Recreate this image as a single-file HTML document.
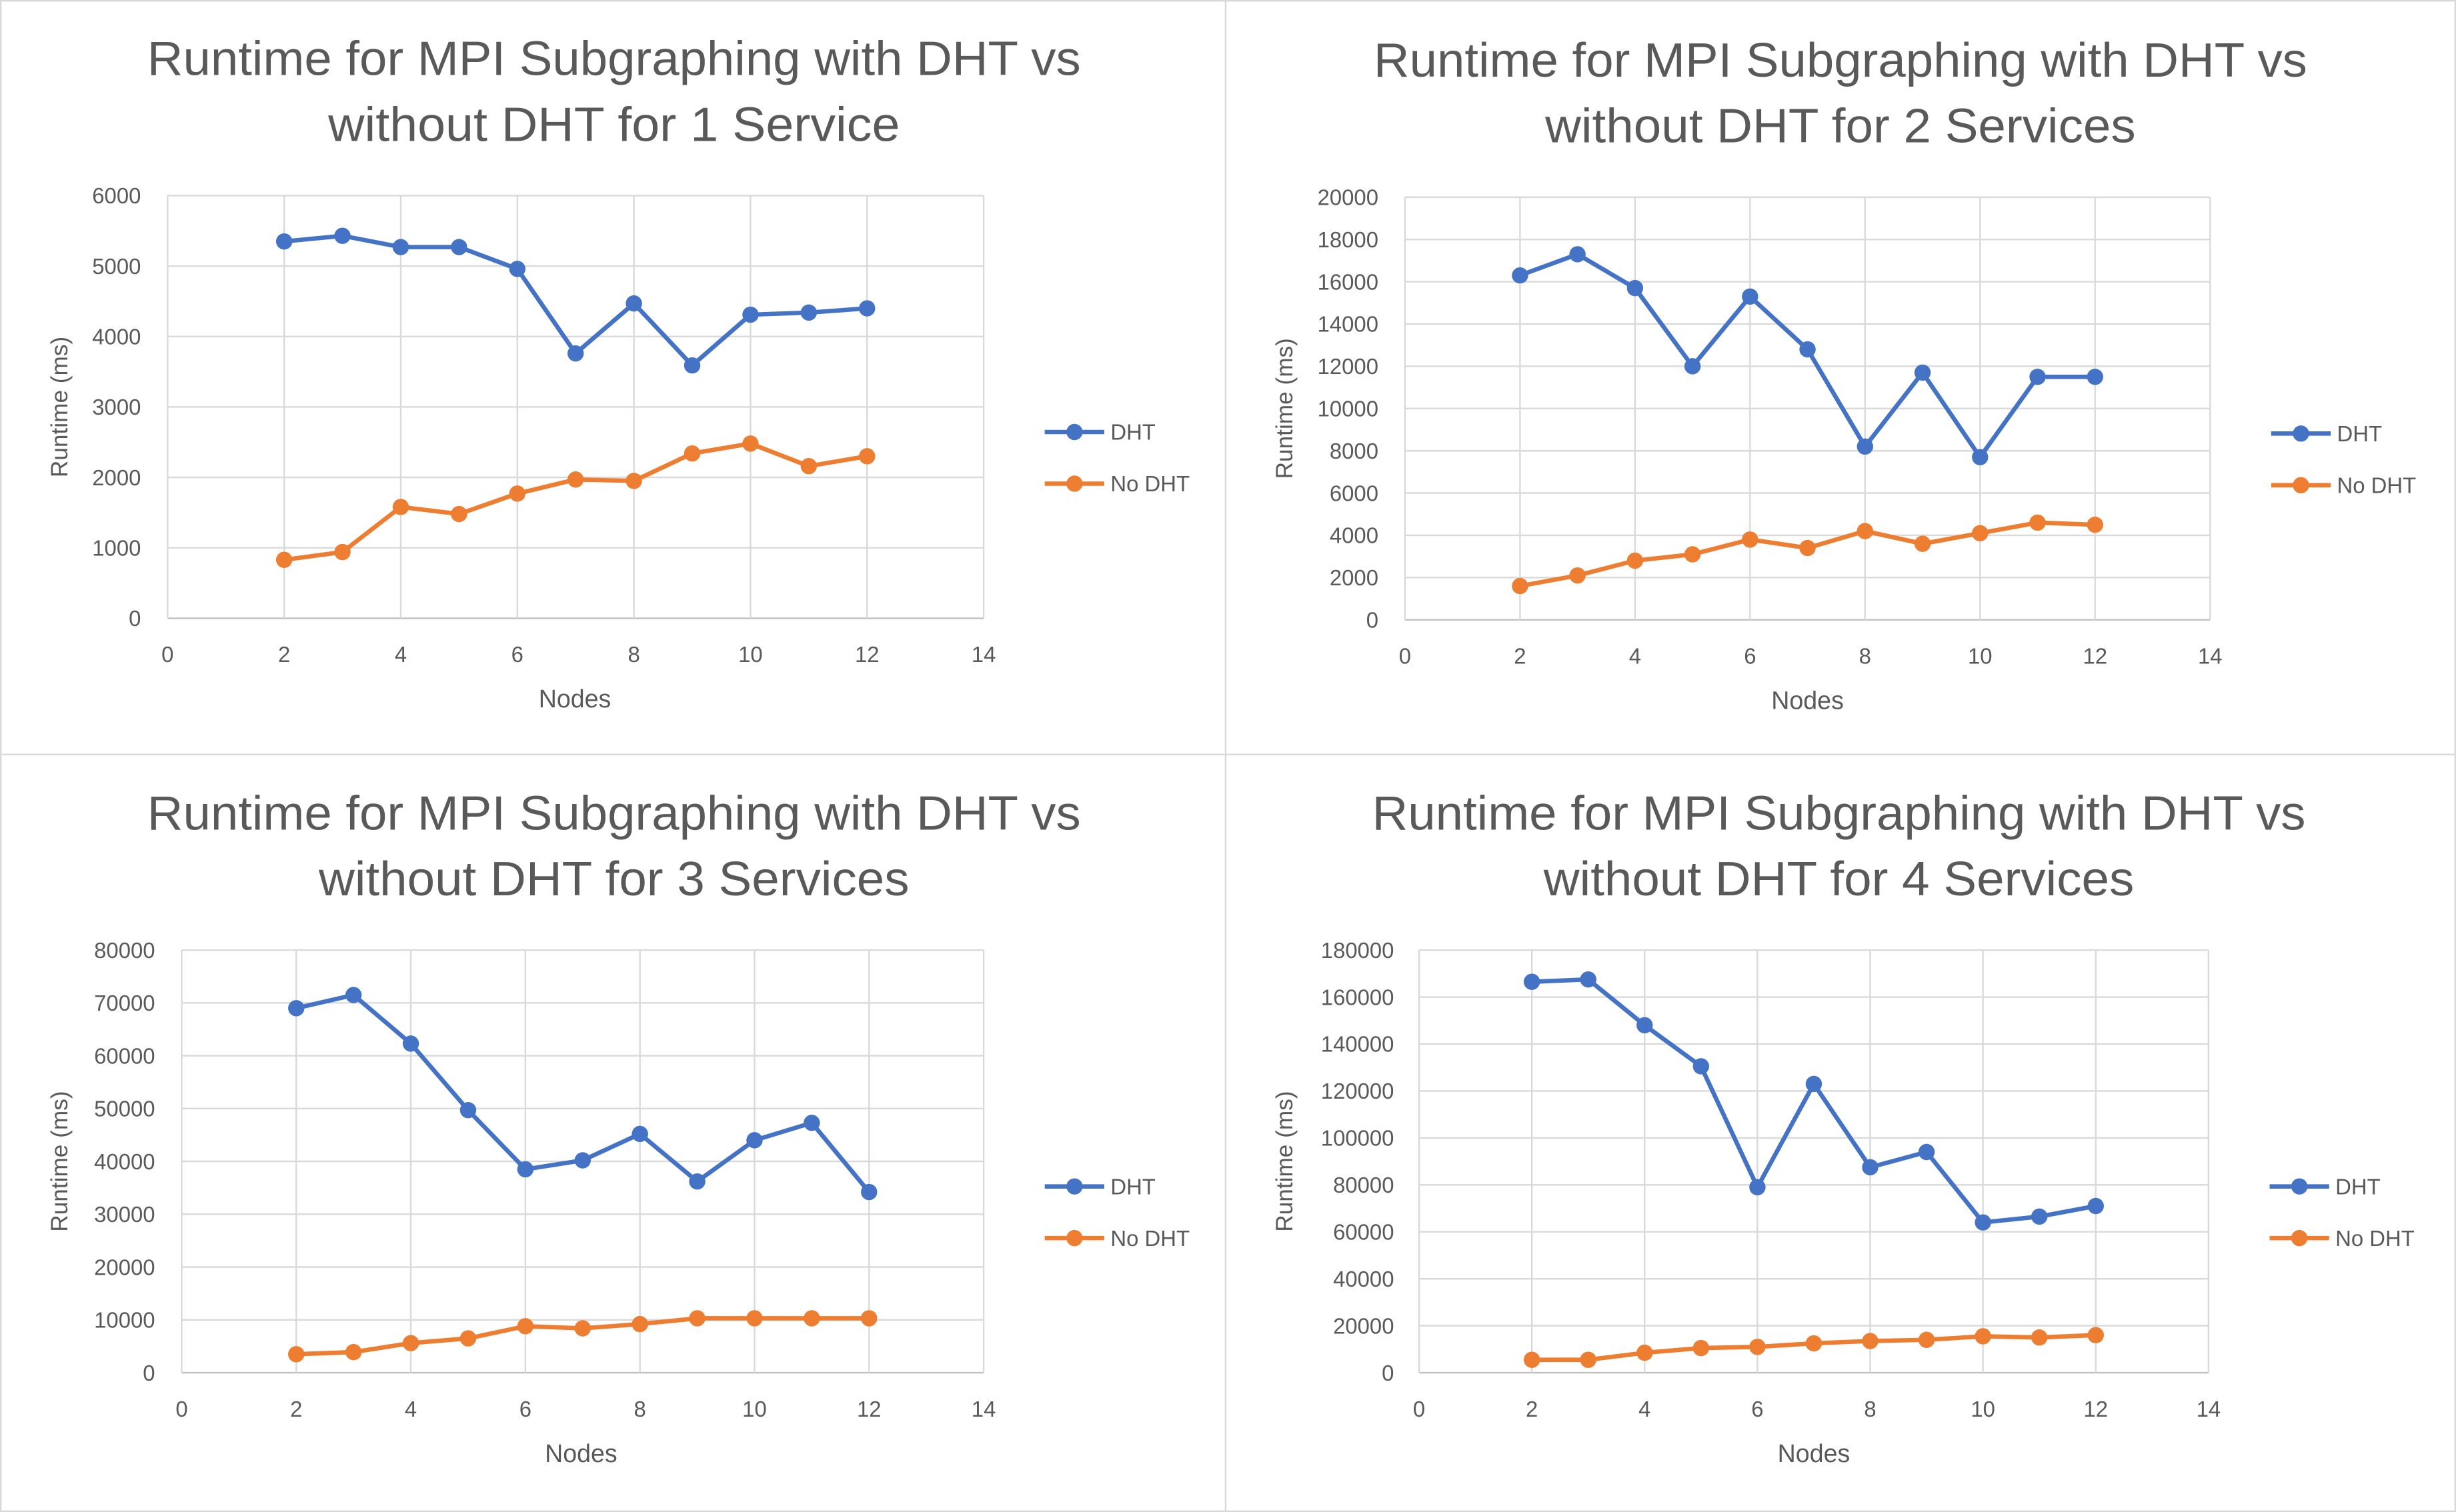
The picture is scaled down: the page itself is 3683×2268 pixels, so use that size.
<!DOCTYPE html>
<html><head><meta charset="utf-8"><style>
html,body{margin:0;padding:0;background:#fff;}
svg{display:block;}
text{font-family:"Liberation Sans",sans-serif;fill:#595959;}
</style></head><body>
<svg id="s" width="3683" height="2268" viewBox="0 0 1568 966" preserveAspectRatio="none" xmlns="http://www.w3.org/2000/svg"></svg>
<script>
const s=document.getElementById('s');let h='';
h+='<rect x="0.5" y="0.5" width="1567" height="965" fill="#fff" stroke="#d9d9d9"/>';
h+='<line x1="782.5" y1="0" x2="782.5" y2="966" stroke="#d9d9d9"/><line x1="0" y1="482" x2="1568" y2="482" stroke="#d9d9d9"/>';
const charts=[
{px:[107,628],py:[125,395],max:6000,step:1000,lx:90,cx:392,ty:[38,80],tt:'1 Service',tw2:365,nodes:[367,447],yt:[38,260],leg:[667,276,309],
d:[5350,5430,5270,5270,4960,3760,4470,3590,4310,4340,4400],n:[830,940,1580,1480,1770,1970,1950,2340,2480,2160,2300]},
{px:[897,1411],py:[126,396],max:20000,step:2000,lx:880,cx:1175,ty:[39,81],tt:'2 Services',tw2:377,nodes:[1154,448],yt:[820,261],leg:[1450,277,310],
d:[16300,17300,15700,12000,15300,12800,8200,11700,7700,11500,11500],n:[1600,2100,2800,3100,3800,3400,4200,3600,4100,4600,4500]},
{px:[116,628],py:[607,877],max:80000,step:10000,lx:99,cx:392,ty:[520,562],tt:'3 Services',tw2:377,nodes:[371,929],yt:[38,742],leg:[667,758,791],
d:[69000,71500,62300,49700,38500,40200,45200,36200,44000,47300,34200],n:[3500,3900,5600,6500,8800,8400,9200,10300,10300,10300,10300]},
{px:[906,1410],py:[607,877],max:180000,step:20000,lx:890,cx:1174,ty:[520,562],tt:'4 Services',tw2:377,nodes:[1158,929],yt:[820,742],leg:[1449,758,791],
d:[166500,167500,148000,130500,79000,123000,87500,94000,64000,66500,71000],n:[5500,5500,8500,10500,11000,12500,13500,14000,15500,15000,16000]}];
for(const c of charts){
 const X=v=>c.px[0]+(c.px[1]-c.px[0])*v/14, Y=v=>c.py[1]-(c.py[1]-c.py[0])*v/c.max;
 h+=`<text x="${c.cx}" y="${c.ty[0]+10}" font-size="31" text-anchor="middle" textLength="596" lengthAdjust="spacingAndGlyphs">Runtime for MPI Subgraphing with DHT vs</text>`;
 h+=`<text x="${c.cx}" y="${c.ty[1]+10}" font-size="31" text-anchor="middle" textLength="${c.tw2}" lengthAdjust="spacingAndGlyphs">without DHT for ${c.tt}</text>`;
 for(let v=0;v<=c.max;v+=c.step){const y=Y(v);
  h+=`<line x1="${c.px[0]}" x2="${c.px[1]}" y1="${y}" y2="${y}" stroke="${v==0?'#bfbfbf':'#d9d9d9'}" stroke-width="1"/>`;
  h+=`<text x="${c.lx}" y="${y+5}" font-size="14" text-anchor="end">${v}</text>`;}
 for(let v=0;v<=14;v+=2){const x=X(v);
  h+=`<line x1="${x}" x2="${x}" y1="${c.py[0]}" y2="${c.py[1]}" stroke="#d9d9d9" stroke-width="1"/>`;
  h+=`<text x="${x}" y="${c.py[1]+28}" font-size="14" text-anchor="middle">${v}</text>`;}
 h+=`<text x="${c.nodes[0]}" y="${c.nodes[1]+5}" font-size="16" text-anchor="middle">Nodes</text>`;
 h+=`<text transform="translate(${c.yt[0]+5},${c.yt[1]}) rotate(-90)" font-size="15" text-anchor="middle">Runtime (ms)</text>`;
 for(const [arr,col] of [[c.d,'#4472C4'],[c.n,'#ED7D31']]){
  h+=`<polyline fill="none" stroke="${col}" stroke-width="2.8" stroke-linejoin="round" points="${arr.map((v,i)=>X(i+2)+','+Y(v)).join(' ')}"/>`;
  arr.forEach((v,i)=>h+=`<circle cx="${X(i+2)}" cy="${Y(v)}" r="5.2" fill="${col}"/>`);}
 [[c.leg[1],'#4472C4','DHT'],[c.leg[2],'#ED7D31','No DHT']].forEach(([y,col,t])=>{
  h+=`<line x1="${c.leg[0]}" x2="${c.leg[0]+38}" y1="${y}" y2="${y}" stroke="${col}" stroke-width="2.8"/><circle cx="${c.leg[0]+19}" cy="${y}" r="5.2" fill="${col}"/>`;
  h+=`<text x="${c.leg[0]+42}" y="${y+5}" font-size="14">${t}</text>`;});
}
s.innerHTML=h;
</script>
</body></html>
